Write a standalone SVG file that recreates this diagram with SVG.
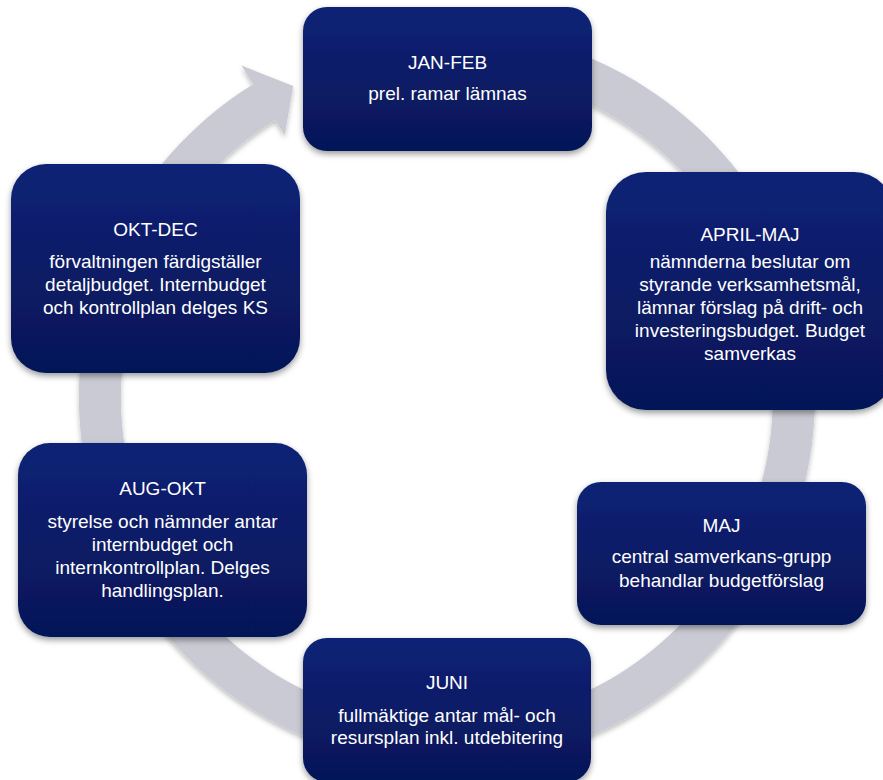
<svg xmlns="http://www.w3.org/2000/svg" width="883" height="780" viewBox="0 0 883 780">
  <defs>
    <linearGradient id="boxg" x1="0" y1="0" x2="0" y2="1">
      <stop offset="0" stop-color="#0a2275"/>
      <stop offset="1" stop-color="#061657"/>
    </linearGradient>
    <filter id="sh" x="-10%" y="-10%" width="120%" height="130%">
      <feDropShadow dx="0" dy="3" stdDeviation="3" flood-color="#000" flood-opacity="0.4"/>
    </filter>
    <filter id="rsh" x="-10%" y="-10%" width="120%" height="120%">
      <feDropShadow dx="0" dy="3" stdDeviation="2.5" flood-color="#000" flood-opacity="0.25"/>
    </filter>
    <style>
      .box { fill: url(#boxg); filter: url(#sh); }
      .t { font-family: "Liberation Sans", Arial, sans-serif; font-size: 19px; fill: #ffffff; text-anchor: middle; }
    </style>
  </defs>
  <rect width="883" height="780" fill="#ffffff"/>
  <g id="connectors">
    <path filter="url(#rsh)" fill="#c9cad3" d="M 333.28 47.01 A 368 368 0 1 1 253.1 84.2 L 241.5 65.5 L 293.2 85.9 L 284.7 135.2 L 275.2 119.9 A 326 326 0 1 0 346.26 86.95 Z"/>
  </g>
  <g id="n-janfeb">
    <rect class="box" x="303" y="7" width="289" height="144" rx="24"/>
    <text class="t" x="447.5" y="69">JAN-FEB</text>
    <text class="t" x="447.5" y="100">prel. ramar lämnas</text>
  </g>
  <g id="n-aprilmaj">
    <rect class="box" x="606" y="172" width="288" height="238" rx="40"/>
    <text class="t" x="750" y="241">APRIL-MAJ</text>
    <text class="t" x="750" y="267.5">nämnderna beslutar om</text>
    <text class="t" x="750" y="290.7">styrande verksamhetsmål,</text>
    <text class="t" x="750" y="313.5">lämnar förslag på drift- och</text>
    <text class="t" x="750" y="336.7">investeringsbudget. Budget</text>
    <text class="t" x="750" y="359.5">samverkas</text>
  </g>
  <g id="n-maj">
    <rect class="box" x="577" y="482" width="289" height="143" rx="24"/>
    <text class="t" x="721.5" y="531.5">MAJ</text>
    <text class="t" x="721.5" y="563.3">central samverkans-grupp</text>
    <text class="t" x="721.5" y="586.7">behandlar budgetförslag</text>
  </g>
  <g id="n-juni">
    <rect class="box" x="303" y="638" width="288" height="144" rx="24"/>
    <text class="t" x="447" y="689.3">JUNI</text>
    <text class="t" x="447" y="721.7">fullmäktige antar mål- och</text>
    <text class="t" x="447" y="744.3">resursplan inkl. utdebitering</text>
  </g>
  <g id="n-augokt">
    <rect class="box" x="18" y="443" width="289" height="194" rx="32"/>
    <text class="t" x="162.5" y="495">AUG-OKT</text>
    <text class="t" x="162.5" y="528.3">styrelse och nämnder antar</text>
    <text class="t" x="162.5" y="551">internbudget och</text>
    <text class="t" x="162.5" y="574">internkontrollplan. Delges</text>
    <text class="t" x="162.5" y="596.7">handlingsplan.</text>
  </g>
  <g id="n-oktdec">
    <rect class="box" x="11" y="164" width="289" height="209" rx="35"/>
    <text class="t" x="155.5" y="236">OKT-DEC</text>
    <text class="t" x="155.5" y="268.3">förvaltningen färdigställer</text>
    <text class="t" x="155.5" y="290.7">detaljbudget. Internbudget</text>
    <text class="t" x="155.5" y="314">och kontrollplan delges KS</text>
  </g>
</svg>
